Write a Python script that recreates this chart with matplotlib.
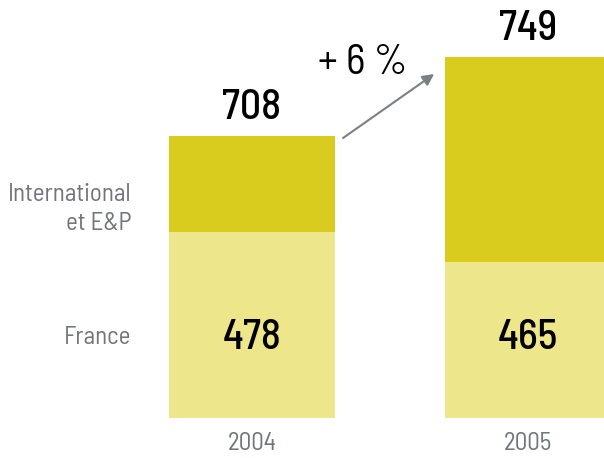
import matplotlib
matplotlib.use("Agg")
import matplotlib.pyplot as plt

# %%
# data

years = ["2004", "2005"]
segments = ["France", "International\net E&P"]
france_values = [478, 465]
totals = [708, 749]
growth_label = "+ 6 %"
# bar heights as drawn in the source (the chart is not to scale)
france_drawn = [186, 156]
intl_drawn = [96, 205]

# %%
# style

plt.rcParams["font.family"] = ["Barlow Semi Condensed", "Barlow Condensed",
                               "Archivo Narrow", "DejaVu Sans"]

col_dark = "#D9CC1F"
col_light = "#EEE68A"
col_grey = "#6F7579"
col_arrow = "#7A8084"
bar_w = 0.6
big = 30
small = 18

fig = plt.figure(figsize=(6.04, 4.58), dpi=100)
ax = fig.add_axes([0, 0, 1, 1])
x = [0, 1]

ax.bar(x, france_drawn, width=bar_w, color=col_light)
ax.bar(x, intl_drawn, width=bar_w, bottom=france_drawn, color=col_dark)

for i in range(len(x)):
    top = france_drawn[i] + intl_drawn[i]
    ax.text(x[i], top + 28, str(totals[i]), ha="center", va="center",
            fontsize=big, fontweight="medium", color="black")
    ax.text(x[i], 80, str(france_values[i]), ha="center", va="center",
            fontsize=big, fontweight="medium", color="black")
    ax.text(x[i], -26, years[i], ha="center", va="center",
            fontsize=small, color=col_grey)

# segment labels on the left
ax.text(-0.437, 80, segments[0], ha="right", va="center", fontsize=small,
        color=col_grey)
ax.text(-0.437, 209, segments[1], ha="right", va="center", fontsize=small,
        color=col_grey, linespacing=1.35)

# growth arrow
top0 = france_drawn[0] + intl_drawn[0]
ax.annotate("", xy=(x[1] - bar_w / 2 - 0.04, top0 + 62),
            xytext=(x[0] + bar_w / 2 + 0.03, top0 - 2),
            arrowprops=dict(arrowstyle="-|>", color=col_arrow, lw=1.5,
                            mutation_scale=17, shrinkA=0, shrinkB=0))
ax.text(0.402, 354, growth_label, ha="center", va="center", fontsize=big,
        color="black")

ax.set_xlim(-252 / 276, 352 / 276)
ax.set_ylim(-40, 418)
ax.axis("off")

fig.savefig("out.png", dpi=100)
